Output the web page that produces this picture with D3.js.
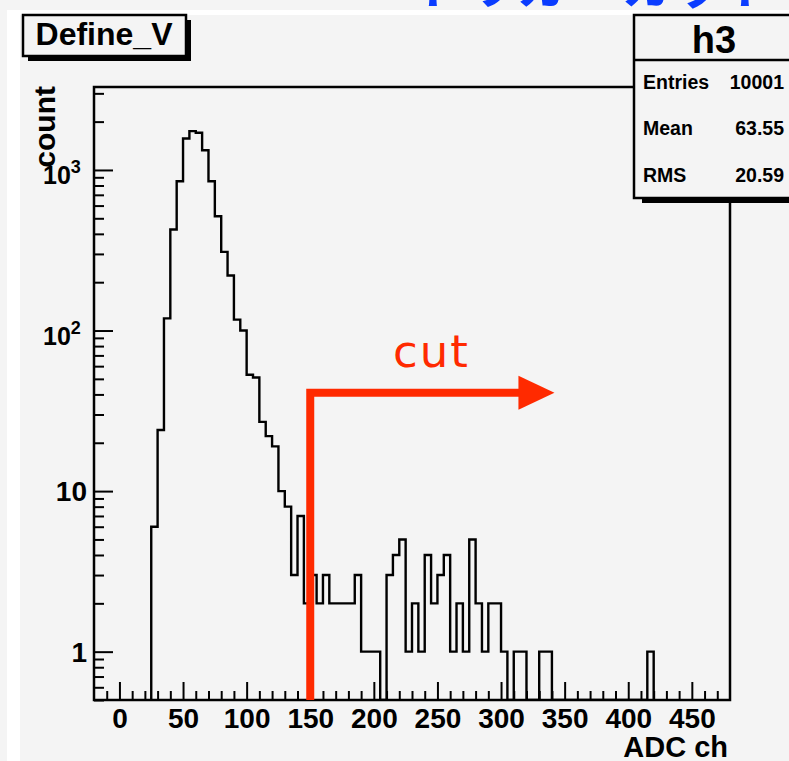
<!DOCTYPE html>
<html>
<head>
<meta charset="utf-8">
<script src="https://cdn.jsdelivr.net/npm/d3@7"></script>
<style>
  body { margin: 0; background: #f4f4f4; }
  svg { display: block; }
  text { font-family: "Liberation Sans", Arial, Helvetica, sans-serif; font-weight: bold; }
</style>
</head>
<body>
<svg width="789" height="761"></svg>
<script>
// histogram h3 : 5 ch wide bins, first filled bin starts at 25
var binStart = 25, binWidth = 5;
var counts = [6, 24, 119, 426, 851, 1571, 1746, 1706, 1327, 851,
              515, 309, 220, 117, 100, 53, 51, 27, 22, 19,
              10, 8, 3, 7, 2, 3, 2, 3, 2, 2,
              2, 2, 3, 1, 1, 1, 0, 3, 4, 5,
              1, 2, 1, 4, 2, 3, 4, 1, 2, 1,
              5, 2, 1, 2, 2, 1, 0, 1, 1, 0,
              0, 1, 1, 0, 0, 0, 0, 0, 0, 0,
              0, 0, 0, 0, 0, 0, 0, 0, 1];
var xMajor = [0, 50, 100, 150, 200, 250, 300, 350, 400, 450];
var yMajor = [1, 10, 100, 1000];
var statsLabels = ["Entries", "Mean", "RMS"];
var statsValues = ["10001", "63.55", "20.59"];
var cutAt = 150, cutLevel = 41, cutEnd = 342;

var svg = d3.select("svg"),
    W = +svg.attr("width"),
    H = +svg.attr("height");

var x = d3.scaleLinear().domain([-20, 480]).range([94, 730]);
var y = d3.scaleLog().domain([0.5, 3286]).range([700, 87]);

// pad background
svg.append("rect").attr("width", W).attr("height", H).attr("fill", "#f4f4f4");
svg.append("rect").attr("x", 7).attr("y", 10).attr("width", W).attr("height", H).attr("fill", "#ffffff");
svg.append("rect").attr("x", 20).attr("y", 15).attr("width", W).attr("height", H).attr("fill", "#f4f4f4");

// slide heading, mostly cut off at the top
svg.append("text")
    .attr("x", 413).attr("y", 4)
    .style("font-family", "'Noto Sans CJK JP', sans-serif")
    .style("font-size", "52px")
    .attr("fill", "#0a3cff")
    .text("トリガーカット");

// ticks
var minorX = d3.range(-10, 480, 10).filter(function(d) { return d % 50 != 0; });
svg.append("g")
    .attr("transform", "translate(0,700)")
    .call(d3.axisBottom(x).tickValues(minorX).tickSize(-9).tickFormat(""))
    .call(function(g) { g.select(".domain").remove(); g.selectAll("line").attr("stroke-width", 2); });

var xAxis = svg.append("g")
    .attr("transform", "translate(0,700)")
    .call(d3.axisBottom(x).tickValues(xMajor).tickSize(-18).tickFormat(d3.format("d")));
xAxis.select(".domain").remove();
xAxis.selectAll("line").attr("stroke-width", 2);
xAxis.selectAll("text")
    .attr("y", 28).attr("dy", 0)
    .style("font-size", "28px")
    .style("font-family", "'Liberation Sans', Arial, sans-serif")
    .style("font-weight", "bold")
    .attr("fill", "#000");

var minorY = [];
[0.1, 1, 10, 100, 1000].forEach(function(p) {
    for (var k = 2; k <= 9; k++) {
        var v = k * p;
        if (v >= 0.5 && v <= 3286) minorY.push(v);
    }
});
svg.append("g")
    .attr("transform", "translate(94,0)")
    .call(d3.axisLeft(y).tickValues(minorY).tickSize(-10).tickFormat(""))
    .call(function(g) { g.select(".domain").remove(); g.selectAll("line").attr("stroke-width", 2); });
svg.append("g")
    .attr("transform", "translate(94,0)")
    .call(d3.axisLeft(y).tickValues(yMajor).tickSize(-19).tickFormat(""))
    .call(function(g) { g.select(".domain").remove(); g.selectAll("line").attr("stroke-width", 2); });

// y labels : 1 and 10 plain, 10^2 and 10^3 as powers
yMajor.forEach(function(v) {
    var e = Math.round(Math.log10(v));
    if (e < 2) {
        svg.append("text")
            .attr("x", 87).attr("y", y(v) + 10)
            .attr("text-anchor", "end")
            .style("font-size", "28px")
            .text(v);
    } else {
        var t = svg.append("text")
            .attr("x", 43).attr("y", y(v) + 14)
            .style("font-size", "25px");
        t.append("tspan").text("10");
        t.append("tspan").attr("dy", -11).style("font-size", "18px").text(e);
    }
});

// histogram outline
var pts = [[x(binStart), y(0.5)]];
counts.forEach(function(c, i) {
    var lo = binStart + i * binWidth, yy = c > 0 ? y(c) : y(0.5);
    pts.push([x(lo), yy]);
    pts.push([x(lo + binWidth), yy]);
});
pts.push([x(binStart + counts.length * binWidth), y(0.5)]);

svg.append("clipPath").attr("id", "frameclip")
    .append("rect").attr("x", 94).attr("y", 87).attr("width", 636).attr("height", 613);

svg.append("path")
    .attr("clip-path", "url(#frameclip)")
    .attr("d", d3.line()(pts))
    .attr("fill", "none")
    .attr("stroke", "#000")
    .attr("stroke-width", 2.4);

// frame
svg.append("rect")
    .attr("x", 94).attr("y", 87).attr("width", 636).attr("height", 613)
    .attr("fill", "none").attr("stroke", "#000").attr("stroke-width", 2.5);

// axis titles
svg.append("text")
    .attr("transform", "translate(55,86) rotate(-90)")
    .attr("text-anchor", "end")
    .style("font-size", "30px")
    .text("count");
svg.append("text")
    .attr("x", 728).attr("y", 757)
    .attr("text-anchor", "end")
    .style("font-size", "29px")
    .text("ADC ch");

// red cut marker
var red = "#ff2a00";
svg.append("path")
    .attr("d", "M" + x(cutAt) + "," + y(0.5) + "V" + y(cutLevel) + "H" + (x(cutEnd) - 30))
    .attr("fill", "none")
    .attr("stroke", red)
    .attr("stroke-width", 8)
    .attr("stroke-linejoin", "miter");
svg.append("path")
    .attr("d", "M" + (x(cutEnd) - 36) + "," + (y(cutLevel) - 17) +
               "L" + x(cutEnd) + "," + y(cutLevel) +
               "L" + (x(cutEnd) - 36) + "," + (y(cutLevel) + 17) + "Z")
    .attr("fill", red);
svg.append("text")
    .attr("x", 393).attr("y", 367)
    .style("font-family", "'DejaVu Sans', sans-serif")
    .style("font-weight", "normal")
    .style("font-size", "45px")
    .style("letter-spacing", "2px")
    .attr("fill", red)
    .text("cut");

// title box
svg.append("rect").attr("x", 28).attr("y", 20).attr("width", 163).attr("height", 41).attr("fill", "#000");
svg.append("rect").attr("x", 23).attr("y", 15).attr("width", 163).attr("height", 41)
    .attr("fill", "#f4f4f4").attr("stroke", "#000").attr("stroke-width", 2.5);
svg.append("text")
    .attr("x", 104).attr("y", 45)
    .attr("text-anchor", "middle")
    .style("font-size", "32px")
    .text("Define_V");

// stats box
svg.append("rect").attr("x", 642).attr("y", 24).attr("width", 200).attr("height", 179).attr("fill", "#000");
svg.append("rect").attr("x", 634).attr("y", 15).attr("width", 200).attr("height", 183)
    .attr("fill", "#f4f4f4").attr("stroke", "#000").attr("stroke-width", 2.5);
svg.append("line").attr("x1", 634).attr("x2", 789).attr("y1", 60).attr("y2", 60)
    .attr("stroke", "#000").attr("stroke-width", 2.5);
svg.append("text")
    .attr("x", 714).attr("y", 53)
    .attr("text-anchor", "middle")
    .style("font-size", "38px")
    .text("h3");
var rowY = [89, 135, 182];
statsLabels.forEach(function(s, i) {
    svg.append("text").attr("x", 643).attr("y", rowY[i]).style("font-size", "19.5px").text(s);
    svg.append("text").attr("x", 784).attr("y", rowY[i]).attr("text-anchor", "end")
        .style("font-size", "19.5px").text(statsValues[i]);
});
</script>
</body>
</html>
